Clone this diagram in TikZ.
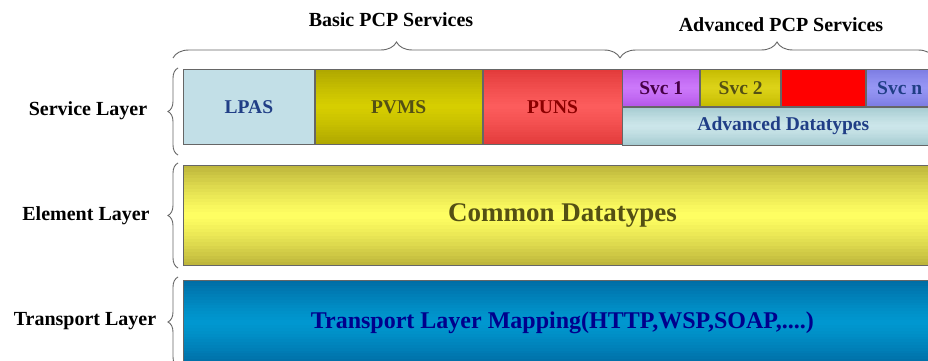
\documentclass[tikz,border=0pt]{standalone}
\usepackage{fontspec}
\setmainfont{Liberation Serif}
\usetikzlibrary{decorations.pathreplacing,calc}
\pgfdeclarelayer{background}
\pgfsetlayers{background,main}
\definecolor{lpasfill}{RGB}{194,223,231}
\definecolor{pvmsedge}{RGB}{174,166,0}
\definecolor{pvmsmid}{RGB}{214,206,0}
\definecolor{punsedge}{RGB}{226,58,58}
\definecolor{punsmid}{RGB}{252,92,92}
\definecolor{svcaedge}{RGB}{180,86,232}
\definecolor{svcamid}{RGB}{204,120,250}
\definecolor{svcbedge}{RGB}{196,186,0}
\definecolor{svcbmid}{RGB}{220,210,24}
\definecolor{svcnedge}{RGB}{124,124,226}
\definecolor{svcnmid}{RGB}{150,150,244}
\definecolor{advedge}{RGB}{164,202,208}
\definecolor{advmid}{RGB}{204,230,234}
\definecolor{elemedge}{RGB}{188,180,58}
\definecolor{elemmid}{RGB}{255,255,98}
\definecolor{tranedge}{RGB}{0,108,164}
\definecolor{tranmid}{RGB}{0,152,208}
\definecolor{darkblue}{RGB}{32,62,134}
\definecolor{darkolive}{RGB}{84,80,20}

% vertical gradient behind a node: node, edge colour, middle colour
\newcommand{\gradfill}[3]{%
  \begin{pgfonlayer}{background}
  \foreach \k in {0,...,29}{
    \pgfmathtruncatemacro{\mixp}{100*abs(2*(\k+0.5)/30-1)^1.2}
    \fill[#2!\mixp!#3] ($(#1.north west)!{\k/30}!(#1.south west)$)
      rectangle ($(#1.north east)!{min(\k+1.15,30)/30}!(#1.south east)$);
  }
  \end{pgfonlayer}}

\begin{document}
\begin{tikzpicture}[x=1pt,y=-1pt,
  box/.style={draw=black!60, line width=0.8pt, inner sep=0pt, anchor=north west,
    font=\bfseries\fontsize{19.5}{22}\selectfont},
  layerlabel/.style={font=\bfseries\fontsize{20}{22}\selectfont},
  grouplabel/.style={font=\bfseries\fontsize{20}{22}\selectfont},
  layerbrace/.style={draw=black!60, line width=0.9pt, decorate,
    decoration={brace, amplitude=10pt}},
  groupbrace/.style={draw=black!60, line width=0.9pt, decorate,
    decoration={brace, amplitude=16pt}}]
\clip (0,0) rectangle (928,361);
\begin{pgfonlayer}{background}
\fill[white] (0,0) rectangle (928,361);
\end{pgfonlayer}

% Service layer
\node[box, fill=lpasfill, text=darkblue, minimum width=131pt, minimum height=75pt]
  (lpas) at (183,69) {LPAS};
\node[box, text=darkolive, minimum width=167pt, minimum height=75pt]
  (pvms) at (lpas.north east) {PVMS};
\node[box, text=red!55!black, minimum width=139pt, minimum height=75pt]
  (puns) at (pvms.north east) {PUNS};
\node[box, text=violet!55!black, minimum width=77pt, minimum height=37pt]
  (svca) at (puns.north east) {Svc 1};
\node[box, text=darkolive, minimum width=80pt, minimum height=37pt]
  (svcb) at (svca.north east) {Svc 2};
\node[box, fill=red, minimum width=84pt, minimum height=37pt] (svcx) at (svcb.north east) {};
\node[box, text=darkblue, minimum width=67pt, minimum height=37pt]
  (svcn) at (svcx.north east) {Svc n};
\node[box, text=darkblue, minimum width=321pt, minimum height=38pt]
  (advdt) at (svca.south west) {Advanced Datatypes};
\gradfill{pvms}{pvmsedge}{pvmsmid}
\gradfill{puns}{punsedge}{punsmid}
\gradfill{svca}{svcaedge}{svcamid}
\gradfill{svcb}{svcbedge}{svcbmid}
\gradfill{svcn}{svcnedge}{svcnmid}
\gradfill{advdt}{advedge}{advmid}

% Element layer
\node[box, text=darkolive, font=\bfseries\fontsize{27}{30}\selectfont,
  minimum width=758pt, minimum height=100pt] (elem) at (183,165) {Common Datatypes};
\gradfill{elem}{elemedge}{elemmid}

% Transport layer
\node[box, text=blue!55!black, font=\bfseries\fontsize{24}{27}\selectfont,
  minimum width=758pt, minimum height=84pt] (tran) at (183,280)
  {Transport Layer Mapping(HTTP,WSP,SOAP,....)};
\gradfill{tran}{tranedge}{tranmid}

% Braces and labels
\draw[groupbrace] (173,58) -- (620,58);
\draw[groupbrace] (620,58) -- (934,58);
\node[grouplabel] (basic) at (391,20) {Basic PCP Services};
\node[grouplabel] (adv) at (781,25) {Advanced PCP Services};

\draw[layerbrace] (178,155) -- (178,68);
\draw[layerbrace] (178,268) -- (178,163);
\draw[layerbrace] (178,367) -- (178,277);
\node[layerlabel] (svclayer) at (88,111) {Service Layer};
\node[layerlabel] (elemlayer) at (86,216) {Element Layer};
\node[layerlabel] (tranlayer) at (85,321) {Transport Layer};
\end{tikzpicture}
\end{document}
